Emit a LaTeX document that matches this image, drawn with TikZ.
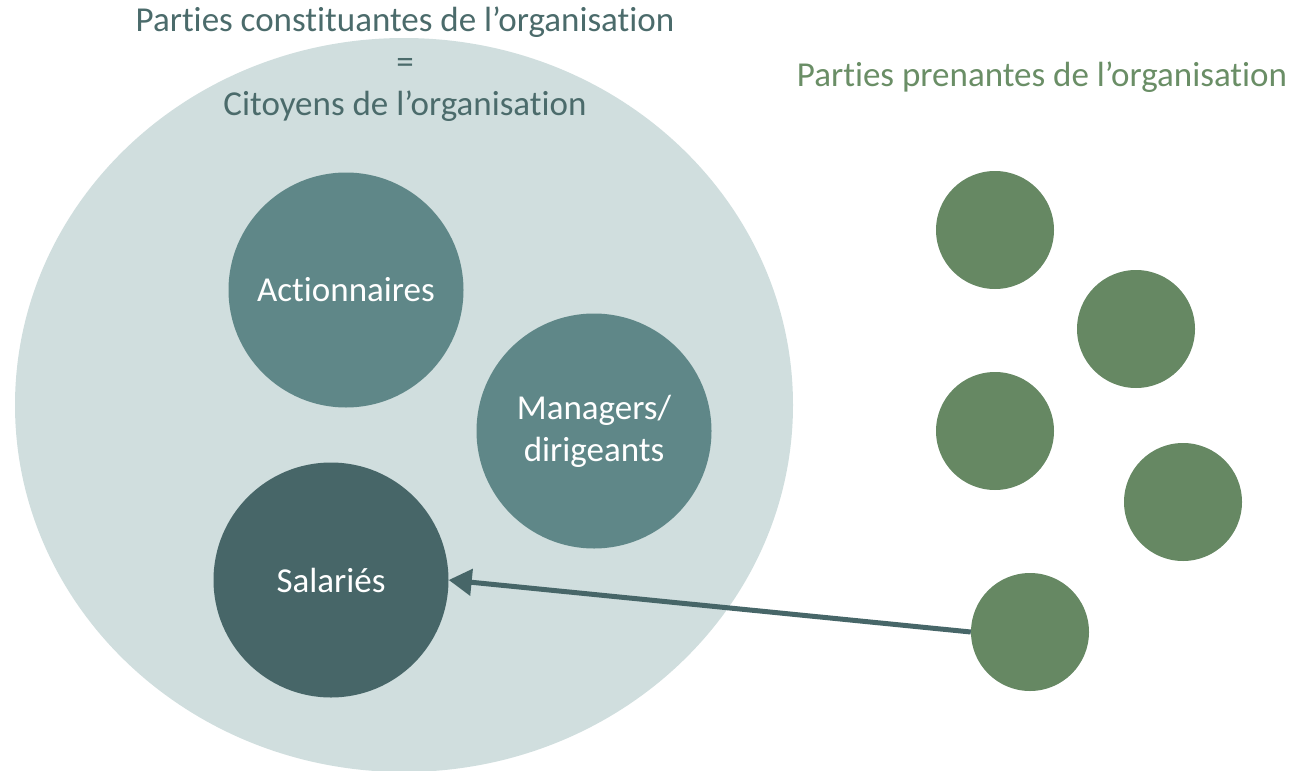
\documentclass[tikz,border=0pt]{standalone}
\usepackage{fontspec}
\setmainfont{Carlito}[Ligatures={NoCommon,NoRequired,NoContextual,NoRare}]
\usetikzlibrary{arrows.meta, shapes.geometric}

\definecolor{citfill}{HTML}{D0DEDE}
\definecolor{citmid}{HTML}{5F8788}
\definecolor{citdark}{HTML}{476668}
\definecolor{ppgreen}{HTML}{668863}
\definecolor{citext}{HTML}{4B6B6B}
\definecolor{pptext}{HTML}{6A8E66}

\begin{document}
\begin{tikzpicture}[x=1pt,y=-1pt,>={Triangle[length=23pt,width=26pt]},
  big font/.style={font=\fontsize{35}{42}\selectfont},
  citizen node/.style={circle,fill=citmid,text=white,minimum size=235pt,inner sep=0pt,align=center,big font},
  employee node/.style={citizen node,fill=citdark},
  stake node/.style={circle,fill=ppgreen,minimum size=118pt,inner sep=0pt}]

  \clip (0,0) rectangle (1296,771);

  \node[ellipse,fill=citfill,minimum width=778pt,minimum height=734pt,inner sep=0pt] (cit) at (404,405) {};

  \node[citizen node] (act) at (346,290) {Actionnaires};
  \node[citizen node] (man) at (594,431) {Managers/\\dirigeants};
  \node[employee node] (sal) at (331,580) {Salariés};

  \node[stake node] (pp1) at (995,230) {};
  \node[stake node] (pp2) at (1136,329) {};
  \node[stake node] (pp3) at (995,431) {};
  \node[stake node] (pp4) at (1183,502) {};
  \node[stake node] (pp5) at (1030,632) {};

  \node[text=citext,align=center,big font] (titcit) at (405,64) {Parties constituantes de l’organisation\\=\\Citoyens de l’organisation};
  \node[text=pptext,big font] (titpp) at (1042,77) {Parties prenantes de l’organisation};

  \path[->,citdark,line width=5pt]
    (pp5.west) edge (sal.east);
\end{tikzpicture}
\end{document}
